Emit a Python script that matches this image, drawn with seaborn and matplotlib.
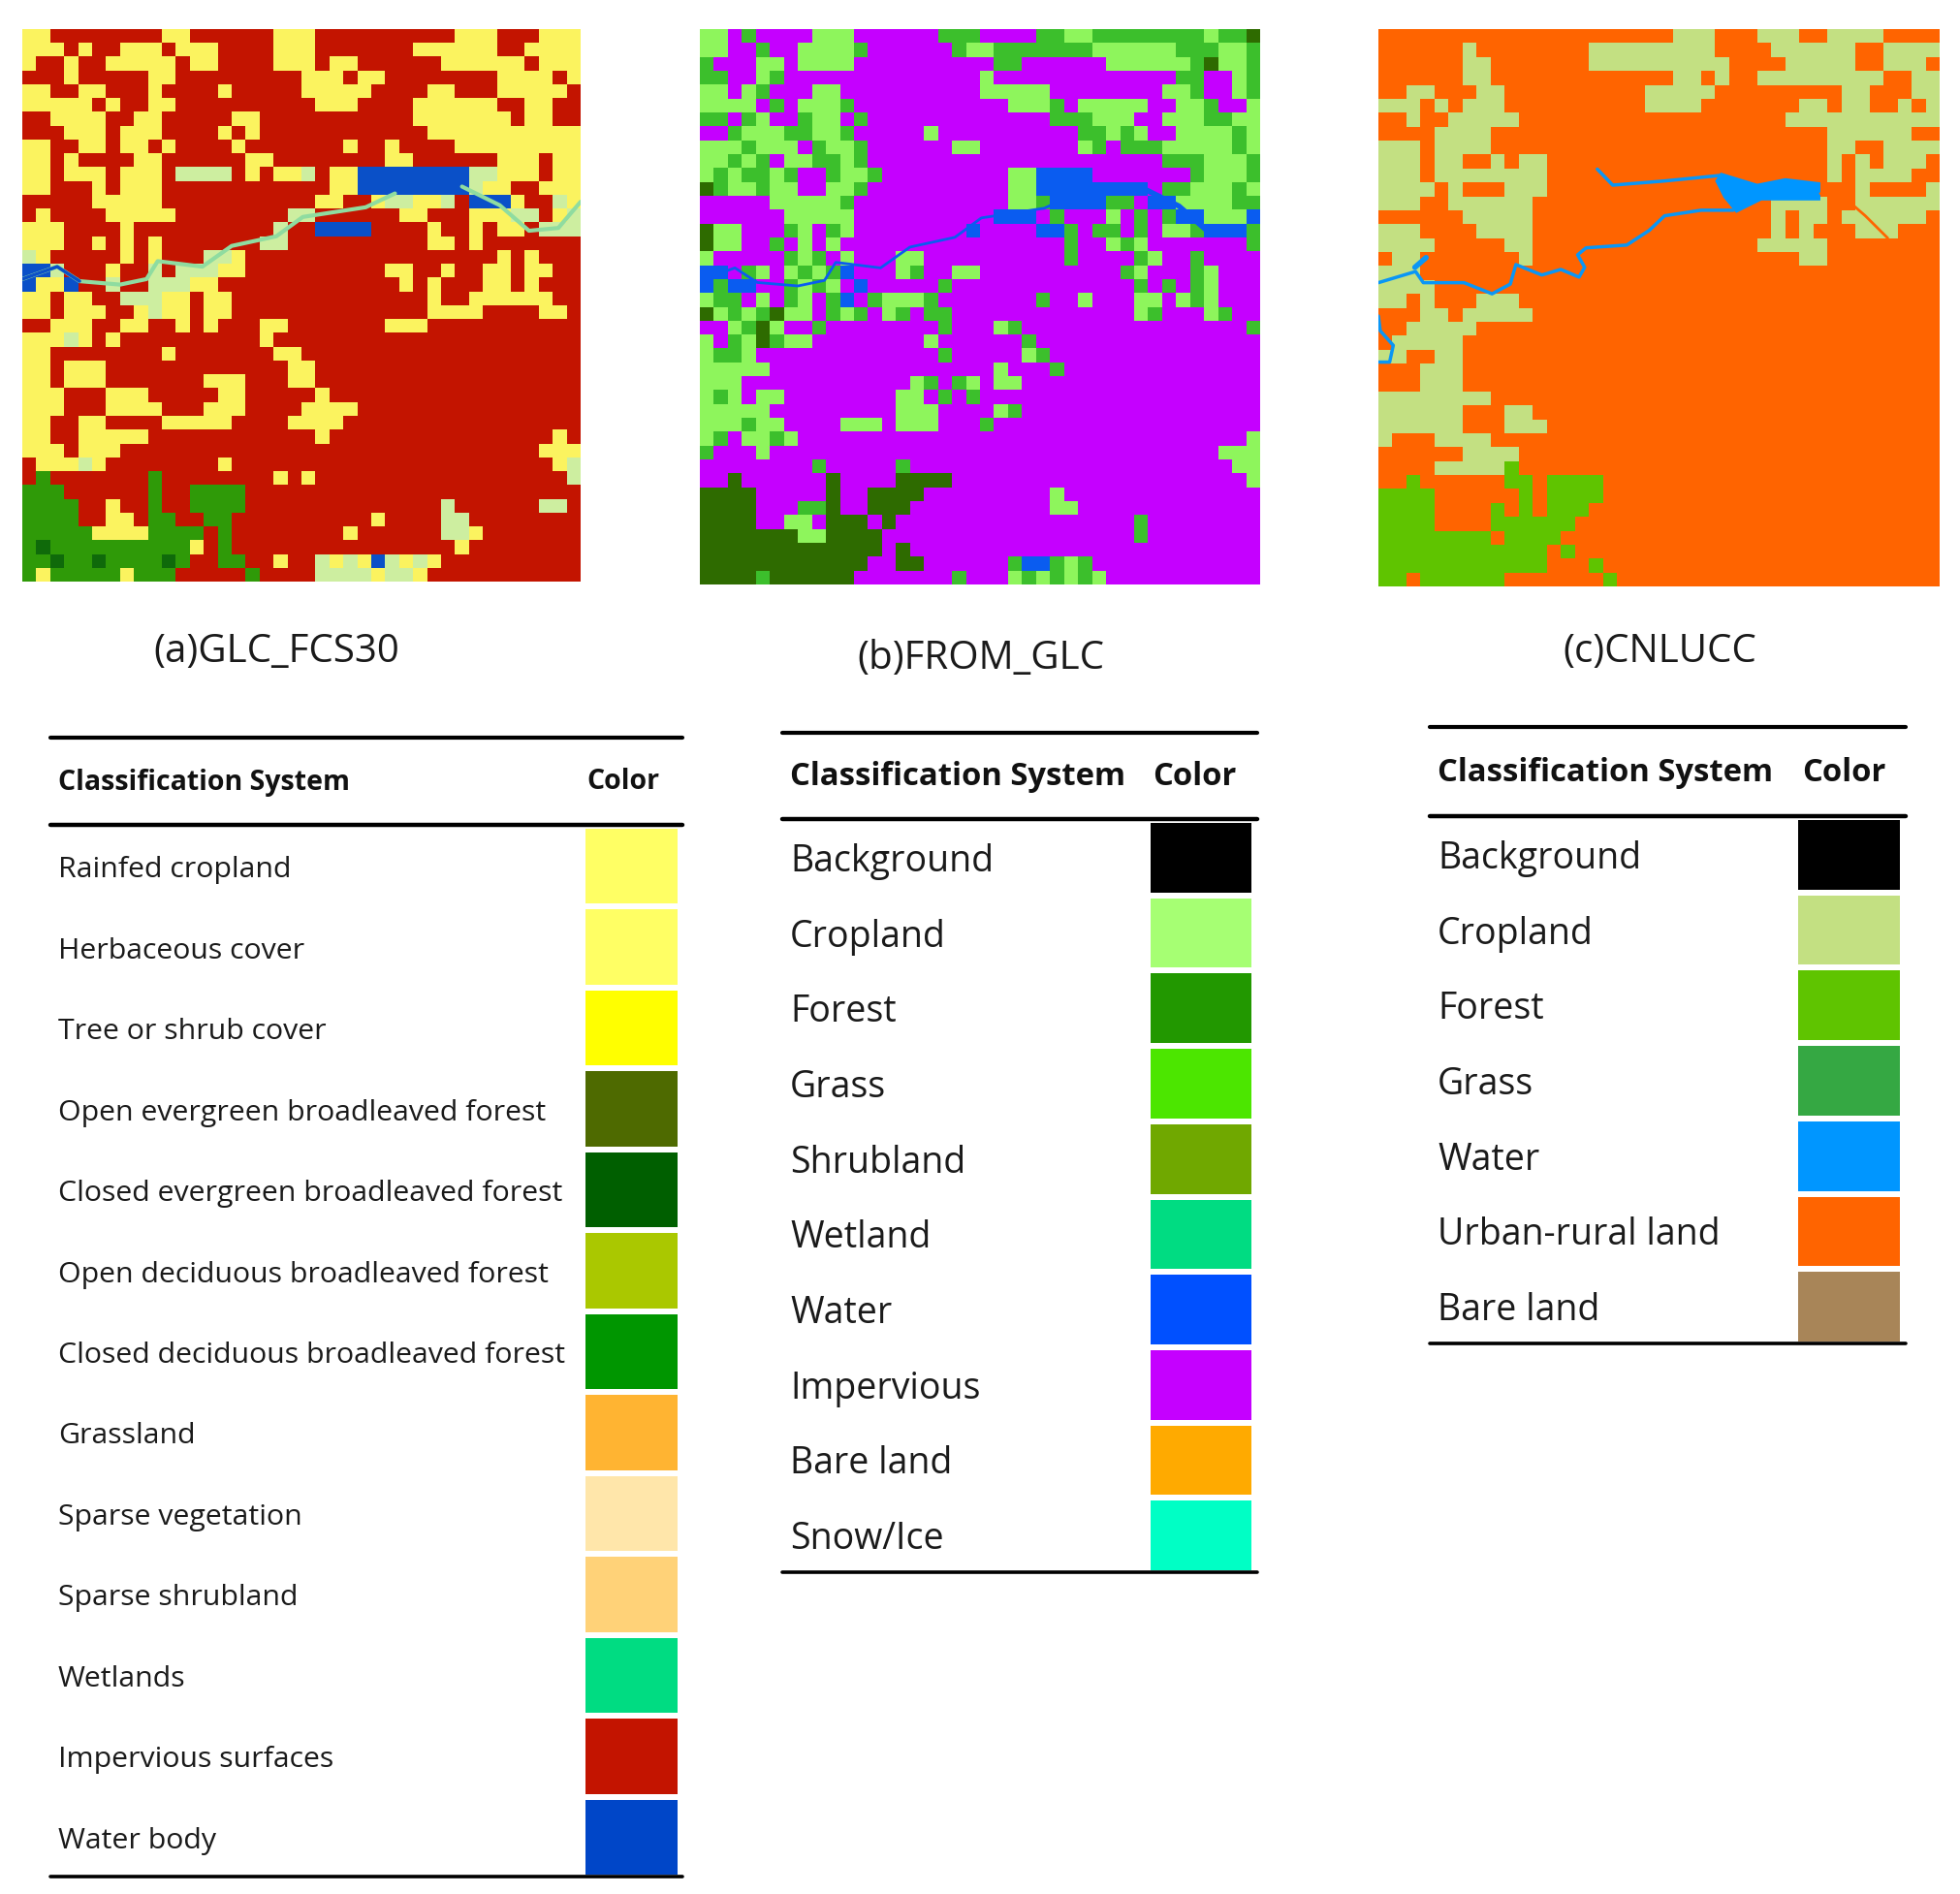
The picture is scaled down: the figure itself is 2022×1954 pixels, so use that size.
import numpy as np
import seaborn as sns
import matplotlib.pyplot as plt
from matplotlib.colors import ListedColormap
from matplotlib.lines import Line2D

W, H = 2022, 1954

# map (a) GLC_FCS30, one letter per cell
glc_codes = "RYLGDB"
glc_colors = ["#c31400", "#fbf35f", "#cdeea0", "#2f9a08", "#0f6a0a", "#0a50c8"]
glc_rows = [
    "YYRRRRRRRRYYRRRRRRYYYRRRRRRRRRRYYYRRRYYY",
    "YYYRYRRYYYRYYYRRRRYYYRRRRRRRYYYYYYRRYYYY",
    "YRRYRRYYYYYRYYRRRRYYYRYYRRRRRRYYYYYYRYYY",
    "RRRYRRRRRYYRRRRRRRRRYYYRYYRRRRRRRRYYYYRY",
    "YYRRYYRRRYRRRRYRRRRRYYYYYRRRRYYRRRYYYYYR",
    "YYYYYRYRRYYRRRRRRRRRRYYYRRRRYYYYYYRRYYRR",
    "RRYYYYRRYYRRRRRYYRRRRRRRRRRRYYYYYYYRYYRR",
    "RRRYYYRYYYRRRRYRYRRRRRRRRRRRRYYYYYYYYYYY",
    "YYRRYYRYYRYRRRRYRRRRRRRYRRYRRRRYYYYYYYYY",
    "YYRYRRRRYYRRRRRRYYRRRRRRRRYYRRRRRRYYYRYY",
    "YYRYYYRYYYRLLLLRYRYYLRYYBBBBBBBBLLYYYRYY",
    "YYRRRYRYYYRRRRRRRRRRRRYYBBBBBBBBLYYRRYYY",
    "RRRRRYYYYYRRRRRRRRRRRYYRRYLLYYLRBBBYRRLY",
    "RYRRRRYYYYYRRRRRRRRLLRRRRRRYYRRRYYYLLRYL",
    "YYYRRRRYRRRRRRRRRRLRRBBBBRRRRYRRYRYYRLLL",
    "YYYRRYRYRYRRRRRRRLLRRRRRRRRRRYYRYRRRRRRR",
    "LYRRRRRYRYRRRLLYRRRRRRRRRRRRRRRRRRYRYRRR",
    "BBLRRRYRRLRLLLYYRRRRRRRRRRYYRRYRRYYRYYRR",
    "BYYBRRLRRLLLYYRRRRRRRRRRRRRYRYRRRYYRYRRR",
    "YYRYYRRLLLYYRYYRRRRRRRRRRRRRRYRRYYYYYYRR",
    "YYRYYYRRYLYYRYYRRRRRRRRRRRRRRYYYYRRRRYYR",
    "RRYYYRRYYRRYRYRRRYYRRRRRRRYYYRRRRRRRRRRR",
    "YYYLYRYRRRRRRRRRRYRRRRRRRRRRRRRRRRRRRRRR",
    "YYRRRRRRRRYRRRRRRRYYRRRRRRRRRRRRRRRRRRRR",
    "YYRYYYRRRRRRRRRRRRRYYRRRRRRRRRRRRRRRRRRR",
    "YYRYYYRRRRRRRYYYRRRYYRRRRRRRRRRRRRRRRRRR",
    "YYYRRRYYYRRRRRYYRRRRRYRRRRRRRRRRRRRRRRRR",
    "YYYRRRYYYYRRRYYYRRRRYYYYRRRRRRRRRRRRRRRR",
    "YYRRYYRRRRYYYYYRRRRYYYYRRRRRRRRRRRRRRRRR",
    "YYRRYYYYYRRRRRRRRRRRRYRRRRRRRRRRRRRRRRYR",
    "YYYRYYYRRRRRRRRRRRRRRRRRRRRRRRRRRRRRRYYY",
    "RYYYLYRRRRRRRRYRRRRRRRRRRRRRRRRRRRRRRRYL",
    "RGRRRRRRRGRRRRRRRRYRYRRRRRRRRRRRRRRRRRRL",
    "GGGRRRRRRGRRGGGGRRRRRRRRRRRRRRRRRRRRRRRR",
    "GGGGRRYRRGRRGGGGRRRRRRRRRRRRRRLRRRRRRLLR",
    "GGGGRRYYRGGRRGGRRRRRRRRRRYRRRRLLRRRRRRRR",
    "GGGGGYYYYGGGGRGRRRRRRRRYRRRRRRLLYRRRRRRR",
    "GDGGGGGGGGGGYRGRRRRRRRRRRRRRRRRYRRRRRRRR",
    "GGDGGDGGGGDGRRGGRRYRRLYLYBLYLYRRRRRRRRRR",
    "GYGGGGGYGGGRRRRRGRRRRLLLLYLLYRRRRRRRRRRR",
]

# map (b) FROM_GLC
from_codes = "PAMDB"
from_colors = ["#c500ff", "#8ef55c", "#3cbf2c", "#2e6b00", "#0a5cf0"]
from_rows = [
    "AAPMPPPPAAAPPPPPPMMMPPPPMMAAMMMMMMMMAMMD",
    "AAPPMPPAAAAMPPPPPPMAAMMMMMMMAAAAAAMMMAAM",
    "MPPPAAPAAAAPPPPPPPPPPMMPPPPPPAAAAAAMDAAM",
    "MMPPAMPPPPPPPPPPPPPPAPPPPPPPPPPPPPMMPPAM",
    "AAPAMPPPAAPPPPPPPPPPAAAAAPPPPPPPPAAMPPAM",
    "AAAAPMPAAAMPPPPPPPPPPPAAAMPAAAAAPPAAMPPA",
    "MMPMAPPMAAPMPPPPPPPPPPPPPMMMAAAPPAAAMMAA",
    "PPMAAAMMAAMPPPPPAPPPPPPPPPPMMAMAPPAAAAMA",
    "AAAMAAAPMAAMPPPPPPAAPPPPPPPAMPMMMAAAAAMA",
    "AAMAMPAAMMAMPPPPPPPPPPPPPPPPPPPPPMMMAAAM",
    "AMAMMAMPPMAAMPPPPPPPPPAABBBBPPPPPPPMAAAM",
    "DMAAMAAPPAAMPPPPPPPPPPAABBBBBBBBPMMAAAMA",
    "PPPPPAAAAAMPPPPPPPPPPPAAMBBBBMMPBBAAAAMM",
    "PPPPPPAAAAAPPPPPPPPPPBBBPMPPPAPMPMBBAAAB",
    "DAAPPPMAPMAPPPPPPPPBPPPPBBMPMMPMPAAMBBBM",
    "DAAPPMPAPAPPPPPPPPPPPPPPPPMPPAMAPPPPPPPM",
    "APPPPPMAMPAPPPAAPPPPPPPPPPMPPPPMAPPMPPPP",
    "BBPMAPAMAMBPPPAMPPAAPPPPPPPPPPMAPPPMAPPP",
    "BMBBPPMAMAPBPPPPPMPPPPPPPPPPPPPMPMPMAPPP",
    "AMMPAPMAPMBPMAAAMPPPPPPPMPPAPPPAAPAMAPPP",
    "DAMAMDAAPMAMPAMPMMPPPPPPPPPPPPPAMPPPAMPP",
    "PPAMDAPPMPPPPPPPPMPPPAMPPPPPPPPPPPPPPPPM",
    "APMADMAAPPPPPPPPAPPPPPPMPPPPPPPPPPPPPPPP",
    "AMMAPPPPPPPPPPPPPMPPPPPAMPPPPPPPPPPPPPPP",
    "AAAAAPPPPPPPPPPPPPPPPAPPPMPPPPPPPPPPPPPP",
    "AAAPPPPPPPPPPPPAMPMAPAAPPPPPPPPPPPPPPPPP",
    "AMAPAAPPPPPPPPAAPMPMPPPPPPPPPPPPPPPPPPPP",
    "AAAAAPPPPPPPPPAAAPPPPAMPPPPPPPPPPPPPPPPP",
    "AAAMAAPPPPAAAPAAAPPPMPPPPPPPPPPPPPPPPPPP",
    "AMPAAMAPPPPPPPPPPPPPPPPPPPPPPPPPPPPPPPPA",
    "MPPPAPPPPPPPPPPPPPPPPPPPPPPPPPPPPPPPPAAA",
    "PPPPPPPPMPPPPPMPPPPPPPPPPPPPPPPPPPPPPPAA",
    "PPDPPPPPPDPPPPDDDDPPPPPPPPPPPPPPPPPPPPPA",
    "DDDDPPPPPDPPDDDDPPPPPPPPPAPPPPPPPPPPPPPP",
    "DDDDPPPMMDPPDDDPPPPPPPPPPAAPPPPPPPPPPPPP",
    "DDDDPPAAPDDDPDPPPPPPPPPPPPPPPPPMPPPPPPPP",
    "DDDDDDDAADDDDPPPPPPPPPPPPPPPPPPMPPPPPPPP",
    "DDDDDDDDDDDDDPDPPPPPPPPPPPPPPPPPPPPPPPPP",
    "DDDDDDDDDDDDPPDDPPPPPPMBBMAMPPPPPPPPPPPP",
    "DDDDMDDDDDDPPPPPPPMPPPAMAMAMAPPPPPPPPPPP",
]

# map (c) CNLUCC, run lengths per row
cn_codes = "OCF"
cn_colors = ["#ff6400", "#c3e082", "#5fc400"]
cn_runs = [
    "O21 C3 O3 C3 O2 C4 O4", "O6 C1 O8 C9 O4 C6 O2 C4", "O6 C2 O7 C10 O4 C5 O2 C3 O1",
    "O6 C2 O13 C2 O1 C1 O2 C9 O2 C2", "O2 C2 O3 C2 O10 C5 O9 C2 O3 C2",
    "C3 O1 C1 O1 C3 O10 C4 O7 C2 O1 C2 O2 C1 O1 C1", "O2 C1 O2 C5 O19 C11",
    "O4 C4 O24 C6 O2", "C3 O1 C4 O24 C2 O2 C4", "C3 O1 C2 O2 C1 O1 C2 O20 C1 O1 C1 O1 C3 O1",
    "C3 O1 C8 O20 C1 O1 C4 O2", "C4 O1 C1 O3 C3 O22 C1 O4 C1", "C3 O2 C6 O17 C4 O2 C6",
    "O6 C5 O17 C1 O1 C2 O1 C6 O1", "C3 O4 C4 O17 C1 O1 C1 O3 C3 O3", "C4 O5 C2 O16 C5 O8",
    "O1 C2 O7 C1 O19 C2 O8", "C3 O37", "C4 O36", "C2 O1 C1 O3 C3 O30", "O3 C2 O1 C5 O29",
    "O2 C5 O33", "O1 C5 O34", "C2 O2 C2 O34", "O3 C3 O34", "O3 C3 O34", "C8 O32",
    "C6 O3 C2 O29", "C6 O3 C3 O28", "C1 O3 C4 O32", "O6 C4 O30", "O4 C5 F1 O30",
    "O2 F1 O6 F2 O1 F4 O24", "F4 O6 F1 O1 F4 O24", "F4 O4 F1 O1 F1 O1 F3 O25",
    "F4 O4 F6 O26", "F8 O1 F4 O27", "F12 O1 F1 O26", "F12 O3 F1 O24", "F2 O1 F6 O7 F1 O23",
]

# rivers, in grid cells
river_x = [0, 2.5, 4.1, 7, 8.9, 9.7, 12.9, 15, 18.2, 20.1, 24.6, 26.7]
river_y = [18.1, 17.2, 18.25, 18.5, 18.1, 16.8, 17.2, 15.7, 15, 13.6, 12.9, 11.9]
east_x = [31.5, 34.2, 36.3, 38.4, 40]
east_y = [11.4, 12.75, 14.6, 14.4, 12.5]

cn_river_x = [0, 2.65, 3.2, 6.1, 8.1, 9.4, 9.8, 11.65, 13, 14.3, 14.7, 14.2, 14.8, 17.7, 19.3, 20.4, 23, 25.3]
cn_river_y = [18.2, 17.4, 18.2, 18.2, 19, 18.3, 16.9, 17.65, 17.25, 17.8, 17.1, 16.2, 15.7, 15.5, 14.45, 13.4, 13, 13]
cn_upper_x = [15.6, 16.7, 20.4, 24.4]
cn_upper_y = [10.05, 11.2, 10.9, 10.5]
cn_left_x = [0, 0.13, 1.06, 0.8, 0]
cn_left_y = [20.6, 21.65, 22.7, 23.9, 23.9]
cn_branch_x = [2.6, 3.4]
cn_branch_y = [17.1, 16.4]
cn_outlet_x = [31.5, 33.1, 34.7, 36.3]
cn_outlet_y = [11.8, 12, 13.4, 15]
lake_x = [24.4, 27, 29, 31.5, 31.5, 27.3, 25.5, 24.6, 24]
lake_y = [10.3, 11.1, 10.7, 11.0, 12.3, 12.3, 13.2, 12.1, 10.9]

# legend tables
glc_classes = ["Rainfed cropland", "Herbaceous cover", "Tree or shrub cover",
               "Open evergreen broadleaved forest", "Closed evergreen broadleaved forest",
               "Open deciduous broadleaved forest", "Closed deciduous broadleaved forest",
               "Grassland", "Sparse vegetation", "Sparse shrubland", "Wetlands",
               "Impervious surfaces", "Water body"]
glc_swatch = ["#ffff64", "#ffff64", "#ffff00", "#4e6a00", "#005f00", "#aac800", "#009600",
              "#ffb432", "#ffe6aa", "#ffd278", "#00dc82", "#c31400", "#0046c8"]
from_classes = ["Background", "Cropland", "Forest", "Grass", "Shrubland", "Wetland",
                "Water", "Impervious", "Bare land", "Snow/Ice"]
from_swatch = ["#000000", "#a6ff73", "#229800", "#4ce600", "#70a800", "#00dc82",
               "#0050ff", "#c500ff", "#ffaa00", "#00ffc5"]
cn_classes = ["Background", "Cropland", "Forest", "Grass", "Water", "Urban-rural land", "Bare land"]
cn_swatch = ["#000000", "#c3e082", "#5fc400", "#35a843", "#0096ff", "#ff6400", "#a88558"]


def expand(run):
    return "".join(m[0] * int(m[1:]) for m in run.split())


def px_axes(x0, y0, x1, y1):
    return fig.add_axes([x0 / W, 1 - y1 / H, (x1 - x0) / W, (y1 - y0) / H])


def draw_map(box, rows, codes, colors):
    ax = px_axes(*box)
    grid = np.array([[codes.index(c) for c in r.ljust(40, codes[0])[:40]] for r in rows])
    sns.heatmap(grid, cmap=ListedColormap(colors), vmin=-0.5, vmax=len(colors) - 0.5, cbar=False,
                xticklabels=False, yticklabels=False, square=False, ax=ax)
    return ax


def river(ax, xs, ys, color, lw):
    sns.lineplot(x=xs, y=ys, sort=False, estimator=None, color=color, lw=lw, ax=ax)
    ax.set_xlim(0, 40)
    ax.set_ylim(40, 0)


def hline(y, x0, x1, lw):
    fig.add_artist(Line2D([x0 / W, x1 / W], [1 - y / H, 1 - y / H], color="black", lw=lw))


def draw_table(classes, swatch, left, right, sw_left, sw_right, top, head, bottom, color_x, size, head_size):
    ax = px_axes(sw_left - 2, head + 1, sw_right + 2, bottom + 1)
    cells = np.arange(len(swatch)).reshape(-1, 1)
    sns.heatmap(cells, cmap=ListedColormap(swatch), cbar=False, linewidths=3, linecolor="white",
                xticklabels=False, yticklabels=False, ax=ax)
    hline(top, left, right, 3)
    hline(head, left, right, 3.2)
    hline(bottom, left, right, 2.6)
    tx = left + 8
    head_y = (top + head) / 2 + 1
    fig.text(tx / W, 1 - head_y / H, "Classification System", fontsize=head_size,
             fontweight="bold", va="center", ha="left", color="#111111")
    fig.text(color_x / W, 1 - head_y / H, "Color", fontsize=head_size,
             fontweight="bold", va="center", ha="left", color="#111111")
    step = (bottom - head) / len(classes)
    for i, name in enumerate(classes):
        fig.text(tx / W, 1 - (head + 5 + step * (i + 0.5)) / H, name, fontsize=size, color="#1a1a1a",
                 va="center", ha="left")


sns.set_theme(style="white")
plt.rcParams["font.family"] = ["Open Sans", "DejaVu Sans"]

fig = plt.figure(figsize=(W / 100, H / 100), dpi=100, facecolor="white")

ax_a = draw_map((23, 30, 599, 600), glc_rows, glc_codes, glc_colors)
river(ax_a, river_x, river_y, "#8fdca0", 3)
river(ax_a, east_x, east_y, "#8fdca0", 3)
river(ax_a, river_x[:3], river_y[:3], glc_colors[5], 2.5)

ax_b = draw_map((722, 30, 1300, 603), from_rows, from_codes, from_colors)
river(ax_b, river_x, river_y, from_colors[4], 2)
river(ax_b, east_x[:3], east_y[:3], from_colors[4], 4)

cn_rows = [expand(r) for r in cn_runs]
ax_c = draw_map((1422, 30, 2001, 605), cn_rows, cn_codes, cn_colors)
river(ax_c, cn_outlet_x, cn_outlet_y, cn_colors[0], 2)
for xs, ys, lw in [(cn_river_x, cn_river_y, 2.5), (cn_upper_x, cn_upper_y, 2.5),
                   (cn_left_x, cn_left_y, 2.5), (cn_branch_x, cn_branch_y, 4)]:
    river(ax_c, xs, ys, "#0a96f5", lw)
ax_c.fill(lake_x, lake_y, color="#0096ff", lw=0)

fig.text(285 / W, 1 - 673 / H, "(a)GLC_FCS30", fontsize=29, ha="center", va="center", color="#1a1a1a")
fig.text(1012 / W, 1 - 680 / H, "(b)FROM_GLC", fontsize=29, ha="center", va="center", color="#1a1a1a")
fig.text(1712 / W, 1 - 673 / H, "(c)CNLUCC", fontsize=29, ha="center", va="center", color="#1a1a1a")

draw_table(glc_classes, glc_swatch, 52, 704, 603, 700, 761, 851, 1936, 605, 21.8, 20.5)
draw_table(from_classes, from_swatch, 807, 1297, 1186, 1292, 756, 845, 1622, 1189, 27, 23.6)
draw_table(cn_classes, cn_swatch, 1475, 1966, 1854, 1961, 750, 842, 1386, 1859, 27, 23.6)

fig.savefig("out.png", dpi=100)
